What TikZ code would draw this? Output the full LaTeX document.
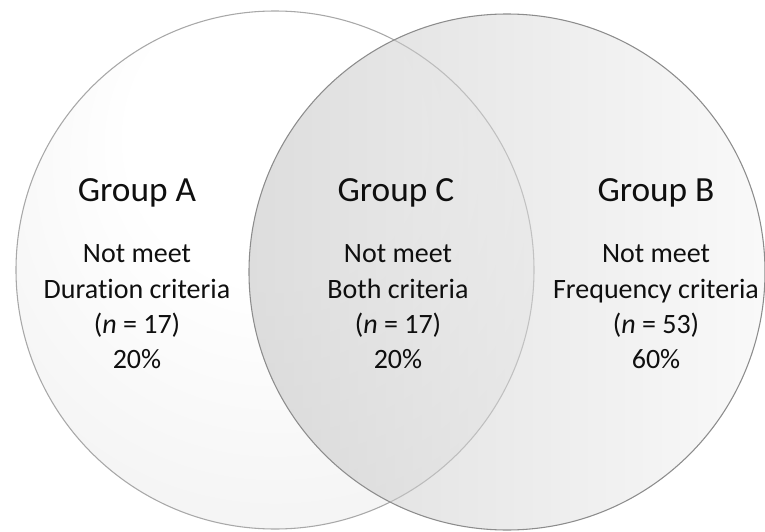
\documentclass[tikz,border=0pt]{standalone}
\usepackage{fontspec}
\setmainfont{Carlito}[Ligatures=NoCommon]
\usepackage{xcolor}
\usetikzlibrary{positioning}
\definecolor{vennInk}{RGB}{15,15,15}
\definecolor{vennEdgeA}{RGB}{168,168,168}
\definecolor{vennEdgeB}{RGB}{140,140,140}
% soft light spot in the upper half of circle A
\pgfdeclareradialshading{groupAglow}{\pgfpoint{0bp}{18bp}}{%
  color(0bp)=(white); color(14bp)=(white); color(50bp)=(gray!17)}

\begin{document}
\begin{tikzpicture}[x=0.75pt,y=-0.75pt,
  groupname/.style={font={\fontsize{26.5}{30}\selectfont}, text=vennInk, align=center},
  groupinfo/.style={font={\fontsize{21}{26.5}\selectfont}, text=vennInk, align=center}]
  \useasboundingbox (0,0) rectangle (765,532);
  \fill[white] (0,0) rectangle (765,532);
  % the two sets
  \shade[shading=groupAglow, draw=vennEdgeA, line width=0.8pt] (275,270) circle (259);
  \shade[left color=gray!52, middle color=gray!26, right color=gray!8, fill opacity=0.5,
    draw=vennEdgeB, line width=0.8pt] (507,272) circle (258);
  % labels
  \node[groupname] (grpA) at (137,193) {Group A};
  \node[groupname] (grpC) at (396,193) {Group C};
  \node[groupname] (grpB) at (656,193) {Group B};
  \node[groupinfo] (infoA) at (137,307) {Not meet\\Duration criteria\\(\textit{n} = 17)\\20\%};
  \node[groupinfo] (infoC) at (398,307) {Not meet\\Both criteria\\(\textit{n} = 17)\\20\%};
  \node[groupinfo] (infoB) at (656,307) {Not meet\\Frequency criteria\\(\textit{n} = 53)\\60\%};
\end{tikzpicture}
\end{document}
